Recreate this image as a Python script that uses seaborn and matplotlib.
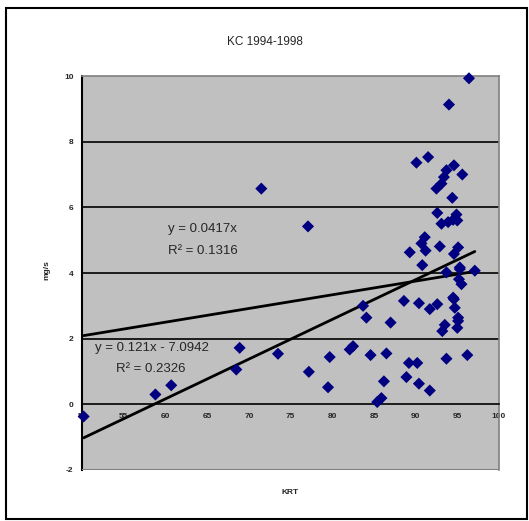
import matplotlib
matplotlib.use("Agg")
import matplotlib.pyplot as plt
import seaborn as sns
import numpy as np
import pandas as pd
from matplotlib.patches import Rectangle

# ---- data ----
krt = [50.2, 58.8, 60.7, 68.5, 68.9, 73.5, 71.5, 77.1, 77.2, 79.7, 79.5, 82.1, 82.5,
       83.7, 84.1, 84.6, 85.4, 85.9, 86.2, 86.5, 87.0, 88.6, 88.9, 89.2, 89.3, 90.1,
       90.2, 90.4, 90.4, 90.7, 90.8, 91.1, 91.2, 91.5, 91.7, 91.7, 92.5, 92.6, 92.6,
       92.9, 93.1, 93.1, 93.2, 93.4, 93.5, 93.7, 93.7, 93.7, 93.9, 94.0, 94.4, 94.5,
       94.5, 94.6, 94.6, 94.6, 94.7, 94.9, 95.0, 95.0, 95.1, 95.1, 95.2, 95.3, 95.5,
       95.6, 96.2, 96.4, 97.1, 95.1, 95.3]
mgs = [-0.37, 0.30, 0.58, 1.06, 1.72, 1.54, 6.57, 5.42, 0.99, 1.44, 0.52, 1.67, 1.77,
       3.00, 2.64, 1.50, 0.07, 0.19, 0.70, 1.55, 2.49, 3.15, 0.83, 1.26, 4.63, 7.36,
       1.26, 3.08, 0.63, 4.90, 4.24, 5.09, 4.68, 7.53, 2.90, 0.42, 6.57, 5.83, 3.05,
       4.81, 6.72, 5.50, 2.23, 6.92, 2.42, 7.13, 4.02, 1.39, 5.55, 9.13, 6.29, 5.62,
       3.25, 7.28, 4.58, 3.20, 2.94, 5.78, 5.60, 2.33, 4.78, 2.64, 3.81, 4.12, 3.66,
       7.00, 1.50, 9.93, 4.07, 2.54, 4.17]

# trendline coefficients (from chart labels)
lin0_slope = 0.0417            # y = 0.0417x
lin1_slope, lin1_icpt = 0.121, -7.0942
eq0 = ["y = 0.0417x", "R² = 0.1316"]
eq1 = ["y = 0.121x - 7.0942", "R² = 0.2326"]

x_ticks = list(range(50, 101, 5))
y_ticks = list(range(-2, 11, 2))
title = "KC 1994-1998"
xlabel = "KRT"
ylabel = "mg/s"

df = pd.DataFrame({"KRT": krt, "mgs": mgs})

sns.set_theme(style="white")
plt.rcParams['font.family'] = ['Liberation Sans', 'DejaVu Sans']

W, H = 529, 521
fig = plt.figure(figsize=(W / 100, H / 100), dpi=100)
fig.patch.set_facecolor("white")

left, right, top, bottom = 82, 499, 76, 470
ax = fig.add_axes([left / W, 1 - bottom / H, (right - left) / W, (bottom - top) / H])
ax.set_facecolor("#C0C0C0")

ax.set_xlim(50, 100)
ax.set_ylim(-2, 10)

# grid lines
for yv in [2, 4, 6, 8]:
    ax.axhline(yv, color="black", lw=1.2, zorder=1)

# trendlines
xs = np.array([min(krt), max(krt)])
ax.plot(xs, lin0_slope * xs, color="black", lw=2, zorder=3)
ax.plot(xs, lin1_slope * xs + lin1_icpt, color="black", lw=2, zorder=3)

sns.scatterplot(data=df, x="KRT", y="mgs", marker="D", color="#000080",
                s=38, edgecolor="none", ax=ax, zorder=4, clip_on=False)

# spines
ax.spines["bottom"].set_position(("data", 0))
ax.spines["bottom"].set_color("black")
ax.spines["bottom"].set_linewidth(1.2)
ax.spines["left"].set_color("black")
ax.spines["left"].set_linewidth(1.5)
for s in ["top", "right"]:
    ax.spines[s].set_color("#808080")
    ax.spines[s].set_linewidth(1.2)
ax.axhline(-2, color="#808080", lw=1.5, zorder=5)

ax.set_xticks(x_ticks)
ax.set_yticks(y_ticks)
ax.set_xticklabels([str(v) for v in x_ticks])
ax.set_yticklabels([str(v) for v in y_ticks])
ax.tick_params(axis="both", direction="out", length=4, width=1, color="black",
               labelsize=6, pad=2)
for lab in ax.get_xticklabels() + ax.get_yticklabels():
    lab.set_fontweight("bold")

ax.set_xlabel("")
ax.set_ylabel("")

# equations
ax.text(60.3, 5.35, eq0[0], fontsize=9.5, ha="left", va="center", zorder=6)
ax.text(60.3, 4.67, eq0[1], fontsize=9.5, ha="left", va="center", zorder=6)
ax.text(51.5, 1.72, eq1[0], fontsize=9.5, ha="left", va="center", zorder=6)
ax.text(54.1, 1.07, eq1[1], fontsize=9.5, ha="left", va="center", zorder=6)

# titles / labels
fig.text(265 / W, 1 - 42 / H, title, fontsize=8.5, ha="center", va="center")
fig.text(290 / W, 1 - 492 / H, xlabel, fontsize=6, fontweight="bold", ha="center", va="center")
fig.text(47 / W, 1 - 270 / H, ylabel, fontsize=6, fontweight="bold", ha="center",
         va="center", rotation=90)

# outer chart border
fig.patches.append(Rectangle((6 / W, 1 - 519 / H), (521) / W, (511) / H,
                             transform=fig.transFigure, fill=False,
                             edgecolor="black", lw=1.5))

fig.savefig("out.png", dpi=100)
